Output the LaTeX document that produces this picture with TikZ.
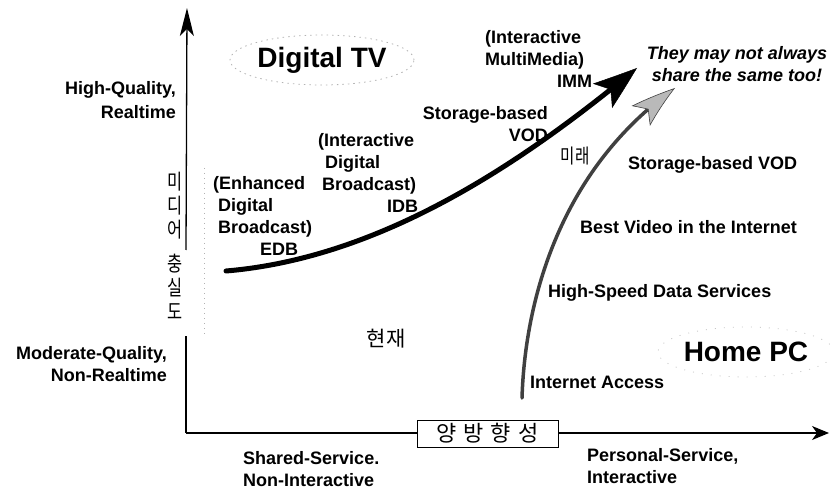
\documentclass[tikz,border=0pt]{standalone}
\usepackage{fontspec}
\setmainfont{Liberation Sans}
\newfontfamily\kr{Noto Sans CJK KR}
\newfontfamily\krn[FakeStretch=0.78]{Noto Sans CJK KR}
\usetikzlibrary{arrows.meta,bending,shapes.geometric}
\begin{document}
\begin{tikzpicture}[x=1bp,y=-1bp,
  lbl/.style={font=\fontsize{18bp}{22bp}\selectfont\bfseries, inner sep=0pt},
  lblwide/.style={font=\fontsize{18bp}{24bp}\selectfont\bfseries, inner sep=0pt},
  lblit/.style={font=\fontsize{18bp}{22bp}\selectfont\bfseries\itshape, inner sep=0pt},
  big/.style={font=\fontsize{28bp}{32bp}\selectfont\bfseries, inner sep=0pt},
  kor/.style={font=\krn\fontsize{21bp}{24bp}\selectfont, inner sep=0pt},
  axisline/.style={line width=1.3bp, black},
  faint/.style={gray!60, line width=0.8bp, dash pattern=on 1bp off 4bp},
]
\useasboundingbox (0,0) rectangle (830,490);

% axes
\coordinate (O) at (186,433);
\coordinate (Ytop) at (187,8);
\coordinate (Xend) at (829,433);
\coordinate (Ybrk1) at (186,250);
\coordinate (Ybrk2) at (186,336);
\draw[axisline] (O) -- (Ybrk2);
\draw[axisline, -{Stealth[length=28bp,width=14bp,inset=7bp]}] (Ybrk1) -- (Ytop);
\draw[axisline, -{Stealth[length=17bp,width=14bp,inset=5bp]}] (O) -- (Xend);

% faint frame line beside the vertical label
\coordinate (fr1) at (204,168);
\coordinate (fr2) at (204,336);
\draw[faint] (fr1) -- (fr2);

% axis labels
\node[kor, align=center] (fidelity) at (175,246) {미\\디\\어\\[10bp]충\\실\\도};
\node[draw, line width=0.9bp, fill=white, minimum width=141bp, minimum height=27bp,
      inner sep=0pt, font=\kr\fontsize{22bp}{24bp}\selectfont] (bidir) at (487.5,433.5)
      {양\hspace{7bp}방\hspace{7bp}향\hspace{7bp}성};

\node[lblwide, align=right, anchor=north east] (hq) at (176,81.5) {High-Quality,\\Realtime};
\node[lbl, align=right, anchor=north east] (mq) at (167,346.5) {Moderate-Quality,\\Non-Realtime};
\node[lbl, align=left, anchor=north west] (sh) at (243,451.5) {Shared-Service.\\Non-Interactive};
\node[lbl, align=left, anchor=north west] (ps) at (587,448.5) {Personal-Service,\\Interactive};

% groups
\node[ellipse, draw=gray!60, line width=0.8bp, dash pattern=on 1.5bp off 4bp,
      minimum width=184bp, minimum height=50bp, big] (dtv) at (322,60) {Digital TV};
\node[ellipse, draw=gray!45, line width=0.8bp, dash pattern=on 1bp off 8bp,
      minimum width=176bp, minimum height=50bp, big] (hpc) at (746,352) {Home PC};

% curves
\coordinate (tvS) at (226,271);
\coordinate (tvT) at (637,68);
\draw[line width=5bp, line cap=round,
      -{Stealth[length=44bp,width=31bp,inset=10bp,line width=0.5bp,bend]}]
      (tvS) .. controls (380,258) and (520,165) .. (tvT);
\coordinate (pcS) at (522,398);
\coordinate (pcT) at (675,88);
\draw[line width=3.5bp, black!75, line cap=round,
      -{Stealth[length=45bp,width=27bp,inset=10bp,line width=0.6bp,bend,fill=gray!55]}]
      (pcS) .. controls (525,300) and (560,170) .. (pcT);

% TV path labels
\node[lbl, align=left, anchor=north west] (edb) at (213,176.5)
  {(Enhanced\\\hspace*{5bp}Digital\\\hspace*{5bp}Broadcast)\\\hspace*{47bp}EDB};
\node[lbl, align=left, anchor=north west] (idb) at (318,133.5)
  {(Interactive\\\hspace*{7bp}Digital\\\hspace*{4bp}Broadcast)\\\hspace*{69bp}IDB};
\node[lbl, align=right, anchor=north east] (vod1) at (548,106.5) {Storage-based\\VOD};
\node[lbl, align=left, anchor=north west] (imm) at (485,30.5)
  {(Interactive\\MultiMedia)\\\hspace*{72bp}IMM};
\node[lblit, align=center, anchor=north] (may) at (737,46.5) {They may not always\\share the same too!};

% PC path labels
\node[lbl, anchor=base west] (vod2) at (628,169.5) {Storage-based VOD};
\node[lbl, anchor=base west] (bv) at (580,233.5) {Best Video in the Internet};
\node[lbl, anchor=base west] (hs) at (548,297.5) {High-Speed Data Services};
\node[lbl, anchor=base west] (ia) at (530,388.5) {Internet Access};

% time markers
\node[font=\kr\fontsize{21bp}{24bp}\selectfont, inner sep=0pt] (now) at (386,339) {현\hspace{1bp}재};
\node[font=\krn\fontsize{20bp}{24bp}\selectfont, inner sep=0pt] (future) at (575,156) {미\hspace{1bp}래};
\end{tikzpicture}
\end{document}
